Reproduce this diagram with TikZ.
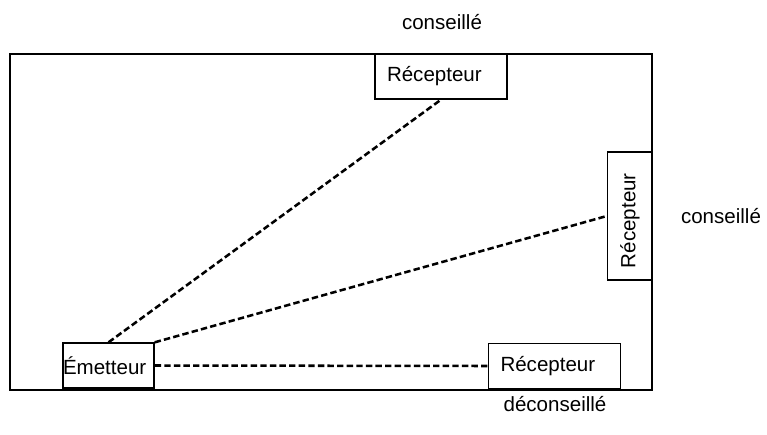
\documentclass[tikz,border=0pt]{standalone}
\usepackage{fontspec}
\setmainfont{Liberation Sans}
\usepackage{tikz}
\usetikzlibrary{positioning}

\tikzset{
    box/.style={draw, line width=1pt, align=left, inner ysep=0pt, minimum height=33.75pt},
    recv/.style={box, text width=81pt, inner xsep=9pt},
    link/.style={line width=1.9pt, dash pattern=on 4.8pt off 2.4pt}
}

\begin{document}
\begin{tikzpicture}[x=0.75pt, y=0.75pt, font=\fontsize{15.4}{18}\selectfont]
                        \useasboundingbox (0, 0) rectangle (767, -435);
                        \draw[line width=0.9pt] (10, -54) rectangle (652, -390);

                        \node[recv] (r1) at (441, -76.5) {Récepteur};
                        \node[recv, text width=78pt, rotate=90] (r2) at (630, -216) {Récepteur};
                        \node[recv] (r3) at (554.5, -366) {Récepteur};
                        \node[box, text width=68.25pt, inner xsep=0pt] (em) at (108.5, -365.5) {Émetteur};

                        \node (l1) at (442, -22) {conseillé};
                        \node (l2) at (721, -216) {conseillé};
                        \node (l3) at (555, -404) {déconseillé};

                        \draw
                        (em.north) edge[link] (r1.south)
                        (em.north east) edge[link] (r2.north)
                        (em.east) edge[link] (r3.west);
                    \end{tikzpicture}
\end{document}
